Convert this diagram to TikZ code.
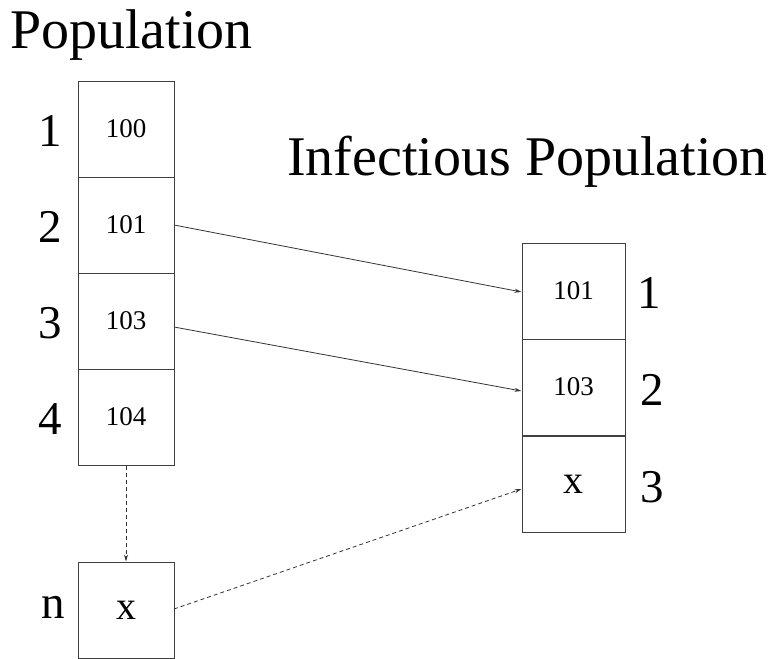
\documentclass[tikz,border=0pt]{standalone}
\usepackage{fontspec}
\setmainfont{Liberation Serif}
\usetikzlibrary{arrows.meta}
\begin{document}
\begin{tikzpicture}[x=1pt,y=-1pt,
  cell/.style={draw=black!75,line width=1pt,minimum width=96pt,minimum height=96pt,inner sep=0pt,font=\fontsize{27}{30}\selectfont},
  xcell/.style={cell,font=\fontsize{40}{44}\selectfont},
  wide/.style={minimum width=103pt},
  idx/.style={inner sep=0pt,font=\fontsize{47}{50}\selectfont},
  title/.style={inner sep=0pt,anchor=base west,font=\fontsize{56}{60}\selectfont},
  link/.style={draw=black!80,line width=0.8pt,-{Stealth[length=7pt,width=4pt]}},
  dlink/.style={link,dash pattern=on 4pt off 3pt}]
\useasboundingbox (0,0) rectangle (772,659);
\node[title] (tpop) at (10,48) {Population};
\node[title] (tinf) at (287,175) {Infectious Population};
% left column
\node[cell] (p1) at (126,129) {100};
\node[cell] (p2) at (126,225) {101};
\node[cell] (p3) at (126,321) {103};
\node[cell] (p4) at (126,417) {104};
\node[xcell] (pn) at (126,610) {x};
\node[idx] (l1) at (50,131) {1};
\node[idx] (l2) at (50,227) {2};
\node[idx] (l3) at (50,323) {3};
\node[idx] (l4) at (50,419) {4};
\node[idx] (ln) at (53,607) {n};
% right column
\node[cell,wide] (i1) at (573.5,291) {101};
\node[cell,wide] (i2) at (573.5,387) {103};
\node[xcell,wide] (i3) at (573.5,484) {x};
\node[idx] (r1) at (649,293) {1};
\node[idx] (r2) at (652,390) {2};
\node[idx] (r3) at (652,487) {3};
% connectors
\coordinate (a1s) at (174,225);
\coordinate (a1e) at (521.5,292);
\coordinate (a2s) at (174,327);
\coordinate (a2e) at (521.5,391);
\coordinate (a3s) at (174,609);
\coordinate (a3e) at (521.5,489);
\draw[link] (a1s) -- (a1e);
\draw[link] (a2s) -- (a2e);
\draw[dlink] (a3s) -- (a3e);
\draw[dlink] (p4.south) -- (pn.north);
\end{tikzpicture}
\end{document}
